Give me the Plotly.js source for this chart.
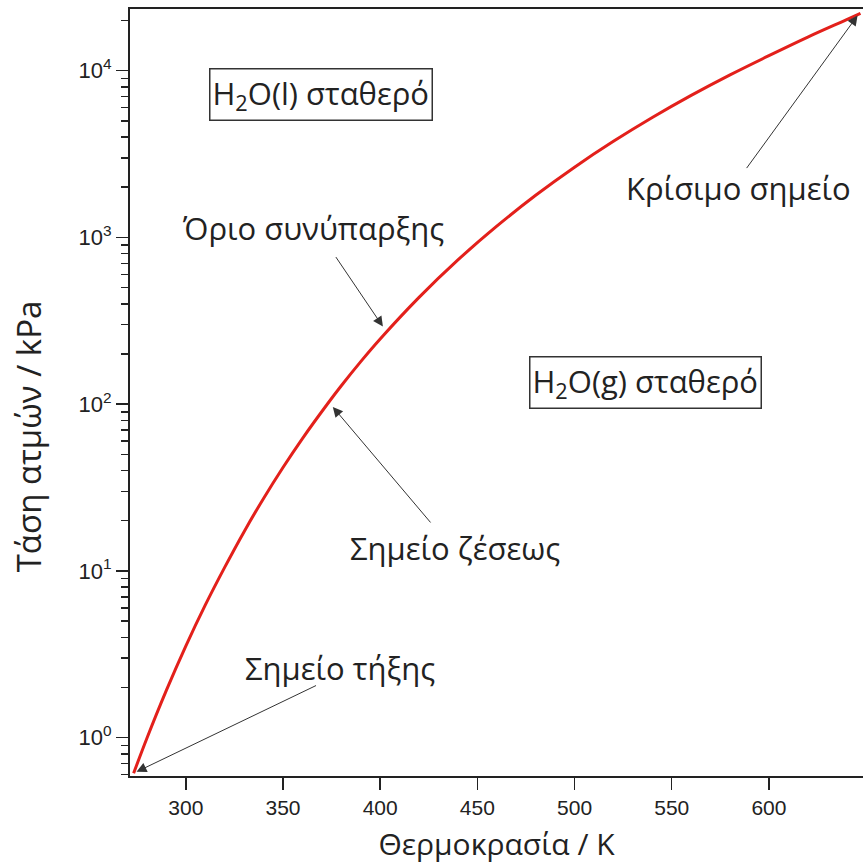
<!DOCTYPE html>
<html>
<head>
<meta charset="utf-8">
<script src="https://cdn.plot.ly/plotly-3.0.1.min.js"></script>
<style>html,body{margin:0;padding:0;background:#fff;}#chart{width:863px;height:865px;}</style>
</head>
<body>
<div id="chart"></div>
<script>
// Temperature (K) and vapour pressure of water (kPa)
const temperatureK = [273.16, 280, 290, 300, 310, 320, 330, 340, 350, 360, 373.15, 380, 390, 400, 420, 440, 460, 480, 500, 520, 540, 560, 580, 600, 620, 640, 647.1];
const pressureKPa  = [0.6117, 0.992, 1.92, 3.54, 6.23, 10.5, 17.2, 27.2, 41.7, 62.2, 101.3, 129, 180, 246, 437, 733, 1168, 1790, 2639, 3769, 5237, 7107, 9439, 12303, 15900, 20230, 22064];
const xTickVals = [300, 350, 400, 450, 500, 550, 600];
const yTickVals = [1, 10, 100, 1000, 10000];
const yTickText = ['10<sup>0</sup>', '10<sup>1</sup>', '10<sup>2</sup>', '10<sup>3</sup>', '10<sup>4</sup>'];
const iTriple = 0, iBoil = 10, iCrit = temperatureK.length - 1;

const txtFont = {family: 'Open Sans, Noto Sans, sans-serif', size: 31, color: '#222'};
const arrowCommon = {showarrow: true, text: '', arrowhead: 2, arrowsize: 2, arrowwidth: 1, arrowcolor: '#333', axref: 'pixel', ayref: 'pixel'};
const lbl = (x, y, text, extra) => Object.assign({xref: 'paper', yref: 'paper', x: x, y: y, text: text, showarrow: false,
  xanchor: 'center', yanchor: 'middle', font: txtFont}, extra || {});

const data = [{
  x: temperatureK, y: pressureKPa, type: 'scatter', mode: 'lines',
  line: {color: '#e3201b', width: 3, shape: 'spline'}, hoverinfo: 'skip'
}];

const layout = {
  width: 863, height: 865,
  margin: {l: 130, r: 0, t: 9, b: 89},
  paper_bgcolor: '#fff', plot_bgcolor: '#fff',
  showlegend: false,
  font: {family: 'Liberation Sans, Arial, sans-serif', color: '#222'},
  xaxis: {
    range: [271.3, 648.4], tickvals: xTickVals, ticks: 'outside', ticklen: 12, tickwidth: 1.5, tickcolor: '#222',
    showline: true, linecolor: '#222', linewidth: 2, mirror: true, showgrid: false, zeroline: false,
    tickfont: {size: 21, color: '#222'},
    title: {text: 'Θερμοκρασία / K', font: {family: 'Open Sans, Noto Sans, sans-serif', size: 30, color: '#222'}, standoff: 16}
  },
  yaxis: {
    type: 'log', range: [Math.log10(0.589), 4.37], tickvals: yTickVals, ticktext: yTickText,
    ticks: 'outside', ticklen: 12, tickwidth: 1.5, tickcolor: '#222',
    minor: {ticks: 'outside', ticklen: 7, tickwidth: 1.5, tickcolor: '#222', showgrid: false, dtick: 'D1'},
    showline: true, linecolor: '#222', linewidth: 2, mirror: false, showgrid: false, zeroline: false,
    tickfont: {size: 22, color: '#222'}
  },
  annotations: [
    lbl(-0.139, 0.443, 'Τάση ατμών / kPa', {textangle: -90, font: {family: 'Open Sans, Noto Sans, sans-serif', size: 33, color: '#222'}}),
    lbl(0.2865, 0.1408, 'Σημείο τήξης'),
    lbl(0.4434, 0.2973, 'Σημείο ζέσεως'),
    lbl(0.2497, 0.7145, 'Όριο συνύπαρξης'),
    lbl(0.8295, 0.7666, 'Κρίσιμο σημείο'),
    lbl(0.2606, 0.8879, 'H<sub>2</sub>O(l) σταθερό', {bordercolor: '#333', borderwidth: 1.5, borderpad: 2, bgcolor: '#fff'}),
    lbl(0.7026, 0.5124, 'H<sub>2</sub>O(g) σταθερό', {bordercolor: '#333', borderwidth: 1.5, borderpad: 2, bgcolor: '#fff'}),
    Object.assign({}, arrowCommon, {xref: 'x', yref: 'y', x: temperatureK[iTriple] + 1.5, y: Math.log10(pressureKPa[iTriple] * 1.02), ax: 181, ay: -87}),
    Object.assign({}, arrowCommon, {xref: 'x', yref: 'y', x: temperatureK[iBoil] + 2.5, y: Math.log10(pressureKPa[iBoil] * 0.95), ax: 99, ay: 117}),
    Object.assign({}, arrowCommon, {xref: 'x', yref: 'y', x: 401.4, y: Math.log10(292), ax: -48, ay: -71}),
    Object.assign({}, arrowCommon, {xref: 'x', yref: 'y', x: temperatureK[iCrit] - 1.5, y: Math.log10(pressureKPa[iCrit] * 0.97), ax: -112, ay: 154})
  ]
};

Plotly.newPlot('chart', data, layout, {displayModeBar: false, staticPlot: true});
</script>
</body>
</html>
